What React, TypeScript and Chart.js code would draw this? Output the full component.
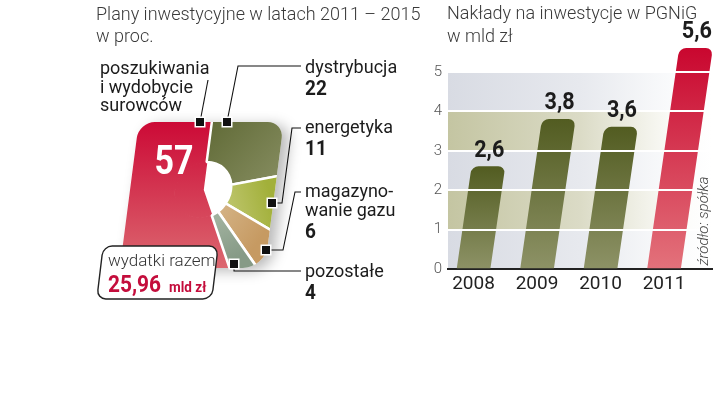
import { useEffect, useRef } from "react";
import { Chart, registerables } from "chart.js";

Chart.register(...registerables);

// ---------------- data ----------------
const pieCategories = [
  "poszukiwania i wydobycie surowców",
  "dystrybucja",
  "energetyka",
  "magazynowanie gazu",
  "pozostałe",
];
const pieLabelLines = [
  ["poszukiwania", "i wydobycie", "surowców"],
  ["dystrybucja"],
  ["energetyka"],
  ["magazyno-", "wanie gazu"],
  ["pozostałe"],
];
const pieValues = [57, 22, 11, 6, 4];
const totalCaption = "wydatki razem";
const totalValue = "25,96";
const totalUnit = "mld zł";
const leftTitle = ["Plany inwestycyjne w latach 2011 – 2015", "w proc."];
const rightTitle = ["Nakłady na inwestycje w PGNiG", "w mld zł"];
const years = [2008, 2009, 2010, 2011];
const investment = [2.6, 3.8, 3.6, 5.6];
const yTickMin = 0;
const yTickMax = 5;
const sourceNote = "źródło: spółka";

// ---------------- styling / layout ----------------
const TXT = 'Roboto, "Noto Sans", sans-serif';
const INK = "#1c1c1c";
const CRIMSON = "#c40d3c";

const PIE_CX = 203;
const PIE_CY = 190;
const PIE_SKEW = 0.13;
const BAR_SKEW = 0.145;

const fmt = (v: number) => v.toFixed(1).replace(".", ",");

function condensed(
  ctx: CanvasRenderingContext2D,
  text: string,
  x: number,
  y: number,
  sx: number,
  align: CanvasTextAlign
) {
  ctx.save();
  ctx.translate(x, y);
  ctx.scale(sx, 1);
  ctx.textAlign = align;
  ctx.fillText(text, 0, 0);
  ctx.restore();
  return ctx.measureText(text).width * sx;
}

function roundRectPath(
  ctx: CanvasRenderingContext2D,
  x0: number,
  y0: number,
  x1: number,
  y1: number,
  r: number[]
) {
  const [tl, tr, br, bl] = r;
  ctx.beginPath();
  ctx.moveTo(x0 + tl, y0);
  ctx.lineTo(x1 - tr, y0);
  ctx.arcTo(x1, y0, x1, y0 + tr, tr);
  ctx.lineTo(x1, y1 - br);
  ctx.arcTo(x1, y1, x1 - br, y1, br);
  ctx.lineTo(x0 + bl, y1);
  ctx.arcTo(x0, y1, x0, y1 - bl, bl);
  ctx.lineTo(x0, y0 + tl);
  ctx.arcTo(x0, y0, x0 + tl, y0, tl);
  ctx.closePath();
}

function pieFill(ctx: CanvasRenderingContext2D, i: number) {
  let g: CanvasGradient;
  switch (i) {
    case 0:
      g = ctx.createLinearGradient(0, 122, 0, 268);
      g.addColorStop(0, "#cc0a36");
      g.addColorStop(1, "#dc6870");
      return g;
    case 1:
      g = ctx.createLinearGradient(160, 122, 260, 200);
      g.addColorStop(0, "#55602a");
      g.addColorStop(1, "#848b5e");
      return g;
    case 2:
      g = ctx.createLinearGradient(275, 205, 225, 225);
      g.addColorStop(0, "#a2b03a");
      g.addColorStop(1, "#c4ca78");
      return g;
    case 3:
      g = ctx.createLinearGradient(260, 250, 215, 225);
      g.addColorStop(0, "#c69a62");
      g.addColorStop(1, "#d3b183");
      return g;
    default:
      g = ctx.createLinearGradient(230, 265, 210, 225);
      g.addColorStop(0, "#869a86");
      g.addColorStop(1, "#a0b19e");
      return g;
  }
}

const labelAnchors = [
  { x: 100, y: 74 },
  { x: 305, y: 73 },
  { x: 305, y: 133 },
  { x: 305, y: 197 },
  { x: 305, y: 277 },
];
const leaders = [
  [[200, 122], [208, 80]],
  [[227, 122], [238, 66], [301, 66]],
  [[272, 203], [282, 203], [292, 128], [301, 128]],
  [[266, 250], [283, 250], [295, 192], [301, 192]],
  [[234, 264], [234, 271], [301, 271]],
];

const pieDecor = {
  id: "pieDecor",
  beforeDatasetsDraw(chart: any) {
    const ctx: CanvasRenderingContext2D = chart.ctx;
    ctx.save();
    ctx.transform(1, 0, -PIE_SKEW, 1, PIE_SKEW * PIE_CY, 0);
    ctx.save();
    roundRectPath(ctx, 130, 122, 275, 268, [16, 16, 22, 14]);
    ctx.shadowColor = "rgba(0,0,0,0.28)";
    ctx.shadowBlur = 14;
    ctx.shadowOffsetX = 7;
    ctx.shadowOffsetY = 3;
    ctx.fillStyle = "#fff";
    ctx.fill();
    ctx.restore();
    roundRectPath(ctx, 130, 122, 275, 268, [16, 16, 22, 14]);
    ctx.clip();
  },
  afterDatasetsDraw(chart: any) {
    const ctx: CanvasRenderingContext2D = chart.ctx;
    ctx.restore();

    ctx.save();
    ctx.fillStyle = "#fff";
    ctx.font = `bold 40px ${TXT}`;
    ctx.textBaseline = "alphabetic";
    condensed(ctx, String(pieValues[0]), 174, 174, 0.85, "center");
    ctx.restore();

    // total box
    ctx.save();
    ctx.transform(1, 0, -0.12, 1, 0.12 * 272.5, 0);
    roundRectPath(ctx, 100, 246, 215, 299, [9, 9, 9, 9]);
    ctx.fillStyle = "#fff";
    ctx.fill();
    ctx.lineWidth = 1.4;
    ctx.strokeStyle = "#222";
    ctx.stroke();
    ctx.restore();

    ctx.save();
    ctx.textAlign = "left";
    ctx.textBaseline = "alphabetic";
    ctx.fillStyle = "#333";
    ctx.font = `300 17px ${TXT}`;
    ctx.fillText(totalCaption, 108, 266);
    ctx.fillStyle = CRIMSON;
    ctx.font = `bold 24px ${TXT}`;
    const w = condensed(ctx, totalValue, 108, 292, 0.87, "left");
    ctx.font = `bold 15px ${TXT}`;
    condensed(ctx, totalUnit, 108 + w + 8, 292, 0.9, "left");
    ctx.restore();

    // leaders
    ctx.save();
    ctx.strokeStyle = "#111";
    ctx.lineWidth = 1.1;
    leaders.forEach((pts) => {
      ctx.beginPath();
      ctx.moveTo(pts[0][0], pts[0][1]);
      for (let k = 1; k < pts.length; k++) ctx.lineTo(pts[k][0], pts[k][1]);
      ctx.stroke();
    });
    leaders.forEach((pts) => {
      const [mx, my] = pts[0];
      ctx.fillStyle = "#fff";
      ctx.fillRect(mx - 5.5, my - 5.5, 11, 11);
      ctx.fillStyle = "#111";
      ctx.fillRect(mx - 4, my - 4, 8, 8);
    });
    ctx.restore();

    // labels
    ctx.save();
    ctx.textBaseline = "alphabetic";
    pieLabelLines.forEach((lines, i) => {
      const a = labelAnchors[i];
      ctx.fillStyle = INK;
      ctx.textAlign = "left";
      ctx.font = `18px ${TXT}`;
      lines.forEach((ln, j) => ctx.fillText(ln, a.x, a.y + j * 18.5));
      if (i > 0) {
        ctx.font = `bold 20px ${TXT}`;
        condensed(ctx, String(pieValues[i]), a.x, a.y + (lines.length - 1) * 18.5 + 22, 0.95, "left");
      }
    });
    ctx.restore();
  },
  afterDraw(chart: any) {
    const ctx: CanvasRenderingContext2D = chart.ctx;
    ctx.save();
    ctx.fillStyle = "#3a3a3a";
    ctx.font = `300 18px ${TXT}`;
    ctx.textAlign = "left";
    ctx.textBaseline = "alphabetic";
    ctx.fillText(leftTitle[0], 96, 20);
    ctx.fillText(leftTitle[1], 96, 42);
    ctx.restore();
  },
};

const barDecor = {
  id: "barDecor",
  beforeDraw(chart: any) {
    const ctx: CanvasRenderingContext2D = chart.ctx;
    const { left, right } = chart.chartArea;
    const y = chart.scales.y;
    ctx.save();
    for (let v = yTickMin; v < yTickMax; v++) {
      const top = y.getPixelForValue(v + 1);
      const bot = y.getPixelForValue(v);
      const g = ctx.createLinearGradient(left, 0, right, 0);
      if (v % 2 === 1) {
        g.addColorStop(0, "#c4c5a2");
        g.addColorStop(0.5, "#dbdbc6");
        g.addColorStop(0.85, "#fbfbf8");
        g.addColorStop(1, "#ffffff");
      } else {
        g.addColorStop(0, "#d8dbe3");
        g.addColorStop(0.5, "#e7e9ee");
        g.addColorStop(0.85, "#fafbfc");
        g.addColorStop(1, "#ffffff");
      }
      ctx.fillStyle = g;
      ctx.fillRect(left, top, right - left, bot - top);
    }
    ctx.restore();
  },
  beforeDatasetsDraw(chart: any) {
    const ctx: CanvasRenderingContext2D = chart.ctx;
    const base = chart.scales.y.getPixelForValue(0);
    ctx.save();
    ctx.transform(1, 0, -BAR_SKEW, 1, BAR_SKEW * base, 0);
  },
  afterDatasetsDraw(chart: any) {
    chart.ctx.restore();
  },
  afterDraw(chart: any) {
    const ctx: CanvasRenderingContext2D = chart.ctx;
    // value labels above the (skewed) bar tops, drawn over the grid lines
    const meta = chart.getDatasetMeta(0);
    ctx.save();
    ctx.fillStyle = INK;
    ctx.font = `bold 24px ${TXT}`;
    ctx.textBaseline = "middle";
    meta.data.forEach((el: any, i: number) => {
      const shift = BAR_SKEW * (el.base - el.y);
      condensed(ctx, fmt(investment[i]), el.x + shift + 1, el.y - 16, 0.9, "center");
    });
    ctx.restore();

    ctx.save();
    ctx.fillStyle = "#3a3a3a";
    ctx.font = `300 18px ${TXT}`;
    ctx.textAlign = "left";
    ctx.textBaseline = "alphabetic";
    ctx.fillText(rightTitle[0], 447, 19);
    ctx.fillText(rightTitle[1], 447, 42);
    ctx.translate(704, 221);
    ctx.rotate(-Math.PI / 2);
    ctx.textAlign = "center";
    ctx.textBaseline = "middle";
    ctx.fillStyle = "#444";
    ctx.font = `italic 300 15px ${TXT}`;
    ctx.fillText(sourceNote, 0, 0);
    ctx.restore();
  },
};

export default function App() {
  const pieRef = useRef<HTMLCanvasElement>(null);
  const barRef = useRef<HTMLCanvasElement>(null);

  useEffect(() => {
    const total = pieValues.reduce((a, b) => a + b, 0);
    const rotation = 360 - (360 * pieValues[0]) / total;

    const pie = new Chart(pieRef.current as HTMLCanvasElement, {
      type: "doughnut",
      data: {
        labels: pieCategories,
        datasets: [
          {
            data: [...pieValues],
            weight: 102,
            backgroundColor: (c: any) => pieFill(c.chart.ctx, c.dataIndex),
            borderColor: "#ffffff",
            borderWidth: (c: any) => (c.dataIndex === 0 ? 0 : 2.5),
          } as any,
          {
            data: [...pieValues],
            weight: 28,
            backgroundColor: (c: any) =>
              c.dataIndex === 0 ? pieFill(c.chart.ctx, 0) : "rgba(255,255,255,0)",
            borderColor: (c: any) =>
              c.dataIndex === 0 ? pieFill(c.chart.ctx, 0) : "rgba(255,255,255,0)",
            borderWidth: (c: any) => (c.dataIndex === 0 ? 1.5 : 0),
          } as any,
        ],
      },
      options: {
        responsive: false,
        animation: false,
        events: [],
        cutout: 0,
        radius: 130,
        rotation,
        layout: { padding: { left: PIE_CX - 100, right: 720 - PIE_CX - 100, top: PIE_CY - 100, bottom: 399 - PIE_CY - 100 } },
        plugins: { legend: { display: false }, tooltip: { enabled: false } },
      } as any,
      plugins: [pieDecor],
    });

    const bar = new Chart(barRef.current as HTMLCanvasElement, {
      type: "bar",
      data: {
        datasets: [
          {
            data: years.map((yr, i) => ({ x: yr, y: investment[i] })),
            backgroundColor: (c: any) => {
              const chart = c.chart;
              const ys = chart.scales && chart.scales.y;
              if (!ys || !chart.chartArea) return "#6a7234";
              const v = investment[c.dataIndex] ?? 0;
              const top = ys.getPixelForValue(v);
              const bot = ys.getPixelForValue(0);
              const g = chart.ctx.createLinearGradient(0, top, 0, bot);
              if (c.dataIndex === investment.length - 1) {
                g.addColorStop(0, "#c9072f");
                g.addColorStop(1, "#e3727b");
              } else {
                g.addColorStop(0, "#525c21");
                g.addColorStop(1, "#8d9266");
              }
              return g;
            },
            borderRadius: 7,
            borderSkipped: "start",
            barThickness: 33,
            clip: false,
          } as any,
        ],
      },
      options: {
        responsive: false,
        animation: false,
        events: [],
        layout: { padding: { left: 428, right: 8, top: 72, bottom: 100 } },
        plugins: { legend: { display: false }, tooltip: { enabled: false } },
        scales: {
          x: {
            type: "linear",
            offset: false,
            min: 2007.598,
            max: 2011.756,
            ticks: {
              stepSize: 1,
              includeBounds: false,
              callback: (v: any) => String(v),
              font: { family: TXT, size: 19 },
              color: "#222",
              padding: 4,
              maxRotation: 0,
              autoSkip: false,
            },
            grid: { display: false, drawTicks: false, offset: false },
            border: { display: true, color: "#222", width: 2 },
            afterFit: (s: any) => {
              s.height = 30;
            },
          },
          y: {
            min: yTickMin,
            max: yTickMax,
            ticks: {
              stepSize: 1,
              font: { family: TXT, size: 15, weight: "300" },
              color: "#555",
              padding: 6,
            },
            grid: {
              color: (c: any) => (c.tick && c.tick.value === 0 ? "rgba(0,0,0,0)" : "#ffffff"),
              lineWidth: 2,
              drawTicks: false,
              z: 1,
            },
            border: { display: false },
            afterFit: (s: any) => {
              s.width = 20;
            },
          },
        },
      } as any,
      plugins: [barDecor],
    });

    return () => {
      pie.destroy();
      bar.destroy();
    };
  }, []);

  return (
    <div style={{ position: "absolute", left: 0, top: 0, width: 720, height: 399, background: "#fff" }}>
      <canvas ref={pieRef} width={720} height={399} style={{ position: "absolute", left: 0, top: 0 }} />
      <canvas ref={barRef} width={720} height={399} style={{ position: "absolute", left: 0, top: 0 }} />
    </div>
  );
}
